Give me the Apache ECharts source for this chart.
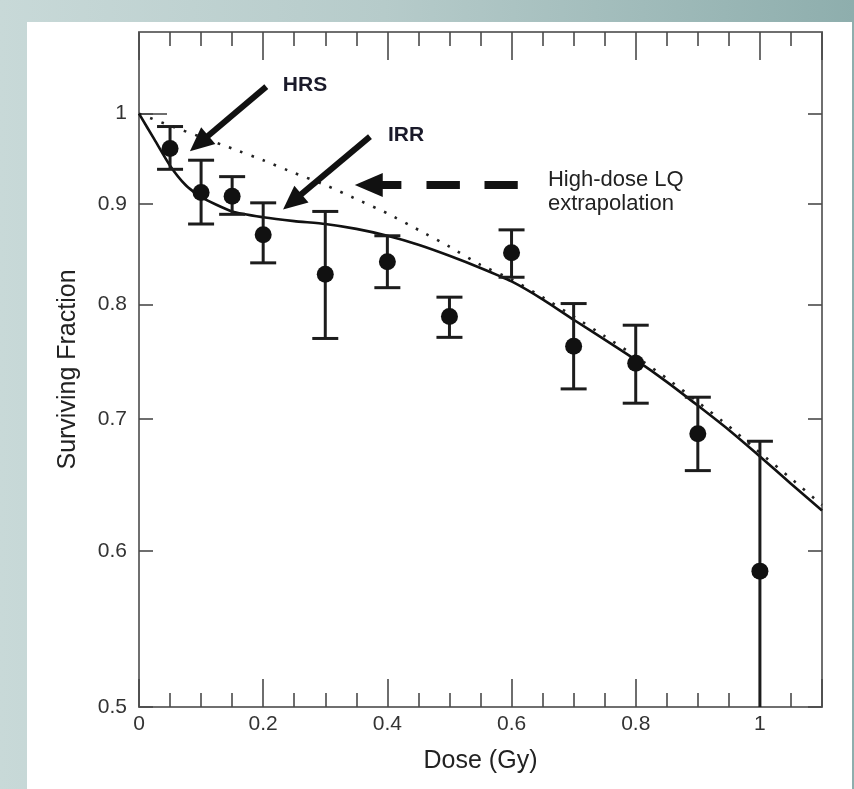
<!DOCTYPE html>
<html><head><meta charset="utf-8">
<script src="https://cdn.jsdelivr.net/npm/echarts@6/dist/echarts.min.js"></script>
<style>
html,body{margin:0;padding:0;}
#wrap{position:relative;width:854px;height:789px;background:linear-gradient(90deg,#c8d9d8 0%,#b6cbca 45%,#8eaead 100%);overflow:hidden;}
#panel{position:absolute;left:27px;top:22px;width:825px;height:767px;background:#fff;}
#chart{position:absolute;left:0;top:0;width:854px;height:789px;}
</style></head><body>
<div id="wrap"><div id="panel"></div><div id="chart"></div></div>
<script>
// Measured surviving fractions
const doses = [0.05, 0.1, 0.15, 0.2, 0.3, 0.4, 0.5, 0.6, 0.7, 0.8, 0.9, 1.0];
const survival = [0.960, 0.912, 0.908, 0.868, 0.829, 0.841, 0.789, 0.850, 0.762, 0.747, 0.688, 0.586];
const errUpper = [0.985, 0.947, 0.929, 0.901, 0.892, 0.867, 0.807, 0.873, 0.801, 0.781, 0.718, 0.682];
const errLower = [0.937, 0.879, 0.889, 0.840, 0.769, 0.816, 0.770, 0.826, 0.725, 0.713, 0.659, 0.480];

// Induced-repair fit (solid curve)
const fitDose = [0, 0.025, 0.05, 0.075, 0.1, 0.15, 0.2, 0.25, 0.3, 0.35, 0.4, 0.45, 0.5, 0.55, 0.6, 0.65, 0.7, 0.75, 0.8, 0.85, 0.9, 0.95, 1.0, 1.05, 1.1];
const fitSF = [1.0, 0.970, 0.941, 0.920, 0.907, 0.892, 0.886, 0.882, 0.879, 0.874, 0.867, 0.858, 0.847, 0.835, 0.822, 0.805, 0.786, 0.768, 0.750, 0.731, 0.711, 0.691, 0.670, 0.649, 0.629];

// High-dose LQ extrapolation (dotted curve)
const lqDose = [0, 0.05, 0.1, 0.15, 0.2, 0.25, 0.3, 0.35, 0.4, 0.45, 0.5, 0.55, 0.6, 0.65, 0.7, 0.75, 0.8, 0.85, 0.9, 0.95, 1.0, 1.05, 1.1];
const lqSF = [1.0, 0.986, 0.973, 0.960, 0.947, 0.933, 0.920, 0.905, 0.890, 0.873, 0.856, 0.838, 0.824, 0.807, 0.789, 0.771, 0.753, 0.734, 0.714, 0.694, 0.673, 0.653, 0.633];

const yTickValues = [0.5, 0.6, 0.7, 0.8, 0.9, 1];
const xLabelInterval = 0.2;

const FONT = '"Liberation Sans", Arial, Helvetica, sans-serif';
const chart = echarts.init(document.getElementById('chart'), null, {renderer: 'canvas'});

const axisLineStyle = {color: '#6f6f6f', width: 2};
const tickStyle = {color: '#4a4a4a', width: 1.6};

function xAx(pos, showLabel) {
  return {
    type: 'value', position: pos, min: 0, max: 1.1, interval: xLabelInterval,
    axisLine: {show: true, onZero: false, lineStyle: axisLineStyle},
    axisTick: {show: true, inside: true, length: 28, lineStyle: tickStyle},
    minorTick: {show: true, splitNumber: 4, length: 14, lineStyle: tickStyle},
    axisLabel: {show: showLabel, fontSize: 21, color: '#333', fontFamily: FONT, margin: 7, showMaxLabel: false},
    splitLine: {show: false}, minorSplitLine: {show: false},
    name: showLabel ? 'Dose (Gy)' : '', nameLocation: 'middle', nameGap: 42,
    nameTextStyle: {fontSize: 25, color: '#222', fontFamily: FONT}
  };
}
function yAx(pos, showLabel, ticks, len, showLine) {
  return {
    type: 'log', logBase: 10, position: pos, min: 0.5, max: 1.1,
    axisLine: {show: showLine, onZero: false, lineStyle: axisLineStyle},
    axisTick: {show: true, inside: true, length: len, customValues: ticks, lineStyle: tickStyle},
    minorTick: {show: false},
    axisLabel: {show: showLabel, customValues: ticks, fontSize: 21, color: '#333', fontFamily: FONT, margin: 12},
    splitLine: {show: false}, minorSplitLine: {show: false},
    name: showLabel ? 'Surviving Fraction' : '', nameLocation: 'middle', nameGap: 58,
    nameTextStyle: {fontSize: 25, color: '#222', fontFamily: FONT}
  };
}

const pts = doses.map((d, i) => [d, survival[i]]);
const errs = doses.map((d, i) => [d, errLower[i], errUpper[i]]);

chart.setOption({
  animation: false,
  backgroundColor: 'transparent',
  grid: {left: 139, right: 32, top: 32, bottom: 82, containLabel: false},
  xAxis: [xAx('bottom', true), xAx('top', false)],
  yAxis: [yAx('left', true, yTickValues, 14, true), yAx('right', false, yTickValues, 14, true), yAx('left', false, [1], 28, false)],
  series: [
    {type: 'line', name: 'LQ', data: lqDose.map((d, i) => [d, lqSF[i]]), showSymbol: false, smooth: 0.2, z: 2,
     lineStyle: {color: '#222', width: 2.6, type: [2.6, 9.4]}},
    {type: 'line', name: 'IR', data: fitDose.map((d, i) => [d, fitSF[i]]), showSymbol: false, smooth: 0.2, z: 3,
     lineStyle: {color: '#111', width: 2.6}},
    {type: 'custom', name: 'err', data: errs, z: 4, clip: true,
     encode: {x: 0, y: [1, 2]},
     renderItem: function (params, api) {
       const x = api.value(0);
       const lo = api.coord([x, api.value(1)]);
       const hi = api.coord([x, api.value(2)]);
       const hw = 13;
       const st = {stroke: '#1c1c1c', lineWidth: 3};
       return {type: 'group', children: [
         {type: 'line', shape: {x1: lo[0], y1: lo[1], x2: hi[0], y2: hi[1]}, style: st},
         {type: 'line', shape: {x1: hi[0] - hw, y1: hi[1], x2: hi[0] + hw, y2: hi[1]}, style: st},
         {type: 'line', shape: {x1: lo[0] - hw, y1: lo[1], x2: lo[0] + hw, y2: lo[1]}, style: st}
       ]};
     }},
    {type: 'scatter', name: 'data', data: pts, symbol: 'circle', symbolSize: 17, z: 5,
     itemStyle: {color: '#111', opacity: 1}}
  ]
});

// Annotations anchored in data space
function px(p) { return chart.convertToPixel({xAxisIndex: 0, yAxisIndex: 0}, p); }
function arrowEls(tail, tip, shaftW, headL, headW) {
  const dx = tip[0] - tail[0], dy = tip[1] - tail[1];
  const L = Math.hypot(dx, dy), ux = dx / L, uy = dy / L, nx = -uy, ny = ux;
  const bx = tip[0] - ux * headL, by = tip[1] - uy * headL;
  return [
    {type: 'line', shape: {x1: tail[0], y1: tail[1], x2: bx + ux * 2, y2: by + uy * 2}, style: {stroke: '#111', lineWidth: shaftW}, z: 10},
    {type: 'polygon', shape: {points: [[tip[0], tip[1]], [bx + nx * headW, by + ny * headW], [bx - nx * headW, by - ny * headW]]}, style: {fill: '#111'}, z: 10}
  ];
}
const hrsTail = px([0.205, 1.032]), hrsTip = px([0.082, 0.957]);
const irrTail = px([0.372, 0.9735]), irrTip = px([0.232, 0.894]);
const lqTip = px([0.3475, 0.920]), lqTail = px([0.61, 0.920]);

const els = [];
els.push(...arrowEls(hrsTail, hrsTip, 6, 24, 11));
els.push(...arrowEls(irrTail, irrTip, 6, 24, 11));
// dashed arrow
(function () {
  const x0 = lqTip[0], x1 = lqTail[0], y = lqTip[1], L = x1 - x0;
  els.push({type: 'polygon', shape: {points: [[x0, y], [x0 + 28, y - 12], [x0 + 28, y + 12]]}, style: {fill: '#111'}, z: 10});
  const segs = [[0.16, 0.286], [0.44, 0.645], [0.796, 1.0]];
  segs.forEach(s => els.push({type: 'line', shape: {x1: x0 + L * s[0], y1: y, x2: x0 + L * s[1], y2: y}, style: {stroke: '#111', lineWidth: 8}, z: 10}));
})();
function txt(p, s, bold) {
  const q = px(p);
  return {type: 'text', x: q[0], y: q[1], z: 10, style: {text: s, fill: bold ? '#1a1a2a' : '#222', font: (bold ? 'bold ' : '') + '21px ' + FONT, textVerticalAlign: 'middle', textAlign: 'left'}};
}
els.push(txt([0.2317, 1.0332], 'HRS', true));
els.push(txt([0.401, 0.9747], 'IRR', true));
els.push({type: 'text', x: px([0.6586, 0.9259])[0], y: px([0.6586, 0.9259])[1], z: 10, style: {text: 'High-dose LQ', fill: '#222', font: '22px ' + FONT, textVerticalAlign: 'middle'}});
els.push({type: 'text', x: px([0.6586, 0.8995])[0], y: px([0.6586, 0.8995])[1], z: 10, style: {text: 'extrapolation', fill: '#222', font: '22px ' + FONT, textVerticalAlign: 'middle'}});
chart.setOption({graphic: {elements: els}});
</script>
</body></html>
